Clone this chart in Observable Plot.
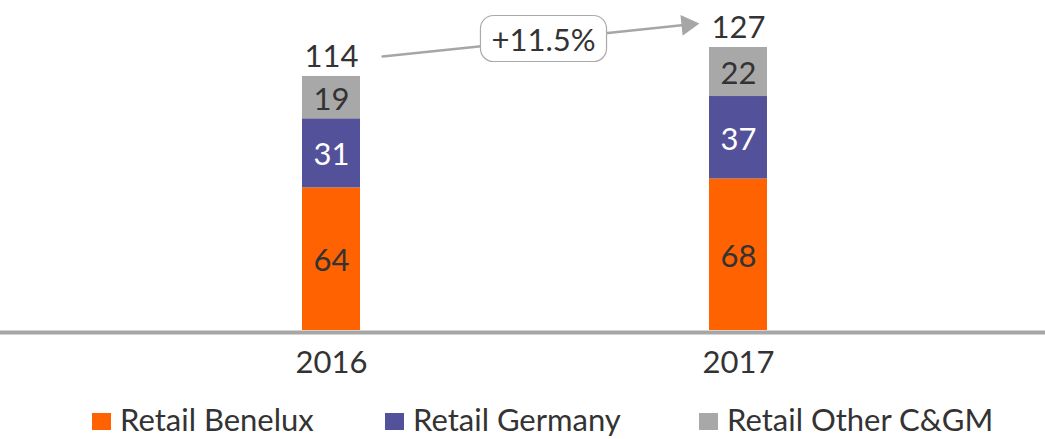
<!DOCTYPE html>
<html>
<head>
<meta charset="utf-8">
<script src="https://cdn.jsdelivr.net/npm/d3@7"></script>
<script src="https://cdn.jsdelivr.net/npm/@observablehq/plot@0.6"></script>
<style>
  html, body { margin: 0; padding: 0; background: #fff; }
  body { width: 1045px; height: 439px; overflow: hidden; font-family: Lato, "Open Sans", sans-serif; color: #333; }
  #legend { display: flex; align-items: center; height: 41px; padding-top: 8px; padding-left: 92px; font-size: 31px; color: #333; }
  #legend .item { display: inline-flex; align-items: center; }
  #legend .sw { width: 19px; height: 17px; margin-right: 9px; margin-top: 5px; }
</style>
</head>
<body>
<div id="chart"></div>
<div id="legend"></div>
<script>
const years = ["2016", "2017"];
const series = ["Retail Benelux", "Retail Germany", "Retail Other C&GM"];
const beneluxValues = [64, 68];
const germanyValues = [31, 37];
const otherValues = [19, 22];
const totals = [114, 127];
const growthLabel = "+11.5%";
const seriesColors = ["#FF6200", "#525199", "#A8A8A8"];

const seriesValues = [beneluxValues, germanyValues, otherValues];
const table = series.flatMap((s, i) => years.map((y, j) => ({year: y, series: s, value: seriesValues[i][j]})));

const textColor = "#333333";
const annotColor = "#A6A6A6";
const fs = 31;
const legendItemWidths = [293, 314, null];

// annotation anchors (headroom above totals, in value units)
const arrow = [{x1: years[0], x2: years[1], y1: totals[0] + 6.6, y2: totals[1] + 12.6}];

const plot = Plot.plot({
  width: 1045,
  height: 390,
  marginLeft: 0,
  marginRight: 0,
  marginTop: 47,
  marginBottom: 60,
  style: {fontFamily: "Lato, 'Open Sans', sans-serif", fontSize: fs + "px", color: textColor, background: "white", overflow: "visible"},
  x: {domain: years, paddingInner: 0.858, paddingOuter: 0.71, align: 0.52, tickSize: 0, tickPadding: 20, label: null},
  y: {domain: [0, d3.max(totals)], axis: null},
  color: {domain: series, range: seriesColors},
  marks: [
    Plot.barY(table, {x: "year", y: "value", fill: "series", z: "series"}),
    Plot.ruleY([0], {stroke: annotColor, strokeWidth: 4, dy: 2}),
    Plot.text(table, Plot.stackY({
      x: "year", y: "value", z: "series",
      text: d => String(d.value),
      fill: d => d.series === "Retail Germany" ? "white" : textColor,
      fontSize: fs, dy: 2
    })),
    Plot.text(years, {x: d => d, y: (d, i) => totals[i], text: (d, i) => String(totals[i]), dy: -19, fontSize: fs, fill: textColor}),
    Plot.arrow(arrow, {x1: "x1", x2: "x2", y1: "y1", y2: "y2", insetStart: 51.3, insetEnd: 50, headLength: 0, stroke: annotColor, strokeWidth: 2.5}),
    Plot.dot(arrow, {x: "x2", y: "y2", dx: -51, dy: 5.3, symbol: "triangle", r: 7.7, rotate: 84, fill: annotColor, stroke: null}),
    Plot.text(arrow, {x: "x1", y: d => (d.y1 + d.y2) / 2, dx: 212, text: () => growthLabel, fontSize: fs, fill: textColor})
  ]
});

document.getElementById("chart").appendChild(plot);

// rounded box behind the growth label
for (const t of plot.querySelectorAll("text")) {
  if (t.textContent === growthLabel) {
    const b = t.getBBox();
    const padX = 11, padY = 5;
    const r = document.createElementNS("http://www.w3.org/2000/svg", "rect");
    r.setAttribute("x", b.x - padX);
    r.setAttribute("y", b.y - padY + 1);
    r.setAttribute("width", b.width + 2 * padX);
    r.setAttribute("height", b.height + 2 * padY - 2);
    r.setAttribute("rx", 13);
    r.setAttribute("fill", "white");
    r.setAttribute("stroke", "#AAAAAA");
    r.setAttribute("stroke-width", 1.2);
    const tr = t.getAttribute("transform");
    if (tr) r.setAttribute("transform", tr);
    t.parentNode.insertBefore(r, t);
  }
}

// legend
const leg = d3.select("#legend");
series.forEach((s, i) => {
  const item = leg.append("div").attr("class", "item");
  if (legendItemWidths[i]) item.style("width", legendItemWidths[i] + "px");
  item.append("div").attr("class", "sw").style("background", seriesColors[i]);
  item.append("span").text(s);
});
</script>
</body>
</html>
